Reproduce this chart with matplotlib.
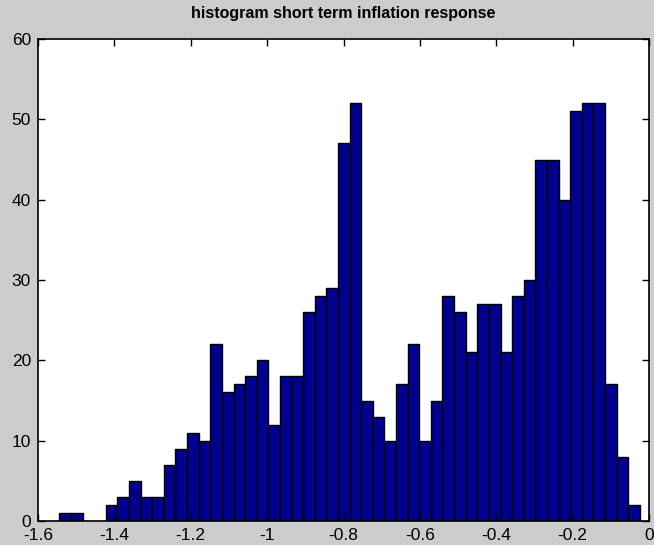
import numpy as np
import matplotlib
matplotlib.use("Agg")
import matplotlib.pyplot as plt
from matplotlib.ticker import FuncFormatter

counts = [1, 1, 0, 0, 2, 3, 5, 3, 3, 7, 9, 11, 10, 22, 16, 17, 18, 20, 12, 18,
          18, 26, 28, 29, 47, 52, 15, 13, 10, 17, 22, 10, 15, 28, 26, 21, 27, 27, 21, 28,
          30, 45, 45, 40, 51, 52, 52, 17, 8, 2]
bin_lo = -1.544
bin_hi = -0.024
x_ticks = [-1.6, -1.4, -1.2, -1.0, -0.8, -0.6, -0.4, -0.2, 0.0]
y_ticks = [0, 10, 20, 30, 40, 50, 60]
title = "histogram short term inflation response"

edges = np.linspace(bin_lo, bin_hi, len(counts) + 1)

plt.rcParams['font.family'] = ['Liberation Sans', 'DejaVu Sans']
fig = plt.figure(figsize=(6.54, 5.45), dpi=100, facecolor=(0.8, 0.8, 0.8))
ax = fig.add_axes([38/654, 1-521/545, (649-38)/654, (521-39)/545])
ax.bar(edges[:-1], counts, width=np.diff(edges), align='edge',
       color=(0, 0, 0.5625), edgecolor='black', linewidth=1.0)
ax.set_xlim(-1.6, 0)
ax.set_ylim(0, 60)
ax.set_xticks(x_ticks)
ax.set_yticks(y_ticks)
ax.xaxis.set_major_formatter(FuncFormatter(lambda v, p: "%g" % round(v, 2)))
ax.tick_params(direction='in', length=5, top=True, right=True, labelsize=12.5,
               width=1)
ax.tick_params(axis='x', pad=5)
ax.tick_params(axis='y', pad=5)
for s in ax.spines.values():
    s.set_linewidth(1.2)
ax.set_title(title, fontsize=11.5, fontweight='bold', pad=15)
fig.savefig("out.png", dpi=100, facecolor=fig.get_facecolor())
